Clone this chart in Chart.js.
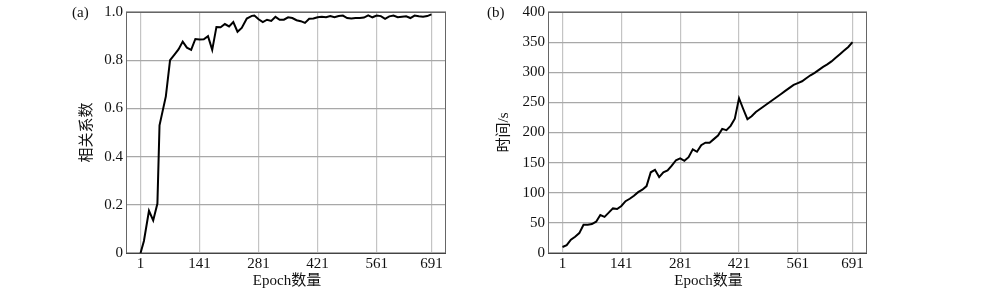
<!DOCTYPE html>
<html>
<head>
<meta charset="utf-8">
<script src="https://cdn.jsdelivr.net/npm/chart.js@4"></script>
<style>
  html, body { margin:0; padding:0; background:#fff; }
  #wrap { position:relative; width:1000px; height:294px; overflow:hidden; }
  .box { position:absolute; top:0; }
</style>
</head>
<body>
<div id="wrap">
  <div class="box" style="left:0px"><canvas id="corrChart" width="460" height="294"></canvas></div>
  <div class="box" style="left:480px"><canvas id="timeChart" width="400" height="294"></canvas></div>
</div>
<script>
// epoch ticks shown on both x axes
const xTicks = [1, 141, 281, 421, 561, 691];

// (a) correlation coefficient vs epoch
const corrEpochs = [1, 9, 21, 31, 41, 46, 61, 71, 81, 91, 101, 111, 121, 131, 141, 151, 161, 171, 181, 191,
  201, 211, 221, 231, 241, 253, 265, 271, 281, 291, 301, 311, 321, 331, 341, 351, 361, 371, 381, 391,
  401, 411, 421, 431, 441, 451, 461, 471, 481, 491, 501, 511, 521, 531, 541, 551, 561, 571, 581, 591,
  601, 611, 621, 631, 641, 651, 661, 671, 681, 691];
const corrValues = [0, 0.05, 0.175, 0.135, 0.205, 0.53, 0.65, 0.80, 0.822, 0.845, 0.877, 0.852, 0.843, 0.888, 0.886, 0.887, 0.90, 0.843, 0.938, 0.937,
  0.95, 0.94, 0.958, 0.918, 0.934, 0.973, 0.984, 0.985, 0.97, 0.958, 0.968, 0.963, 0.98, 0.968, 0.968, 0.978, 0.975, 0.966, 0.962, 0.955,
  0.972, 0.973, 0.978, 0.98, 0.978, 0.983, 0.978, 0.983, 0.985, 0.975, 0.973, 0.975, 0.975, 0.977, 0.986, 0.978, 0.985, 0.983, 0.972, 0.982,
  0.985, 0.978, 0.98, 0.982, 0.975, 0.985, 0.982, 0.98, 0.983, 0.99];
const corrTicks = [0, 0.2, 0.4, 0.6, 0.8, 1.0];

// (b) time (s) vs epoch
const timeEpochs = [1, 11, 21, 31, 41, 51, 61, 71, 81, 91, 101, 111, 121, 131, 141, 151, 161, 171, 181, 191,
  201, 211, 221, 231, 241, 251, 261, 271, 281, 291, 301, 311, 321, 331, 341, 351, 361, 371, 381, 391,
  401, 411, 421, 431, 441, 451, 461, 471, 481, 491, 501, 511, 521, 531, 541, 551, 561, 571, 581, 591,
  601, 611, 621, 631, 641, 651, 661, 671, 681, 691];
const timeValues = [10, 13, 22, 27, 33, 47, 47, 48, 52, 63, 60, 67, 74, 73, 78, 86, 90, 95, 101, 105,
  111, 134, 138, 126, 134, 137, 145, 154, 157, 153, 159, 172, 168, 179, 183, 183, 189, 195, 206, 204,
  211, 223, 257, 239, 222, 227, 234, 239, 244, 249, 254, 259, 264, 269, 274, 279, 282, 285, 290, 295,
  299, 304, 309, 313, 318, 324, 330, 336, 342, 350];
const timeTicks = [0, 50, 100, 150, 200, 250, 300, 350, 400];

const SERIF = '"Liberation Serif", "Times New Roman", serif';
const CJK = '"Liberation Serif", "Noto Sans CJK SC", serif';

// frame + axis titles + panel letter
const decoPlugin = {
  id: 'deco',
  afterDraw(chart, args, opts) {
    const { ctx, chartArea: a } = chart;
    ctx.save();
    ctx.strokeStyle = '#666';
    ctx.lineWidth = 1;
    ctx.strokeRect(a.left + 0.5, a.top + 0.5, a.right - a.left - 1, a.bottom - a.top);
    ctx.strokeStyle = '#444';
    ctx.beginPath();
    ctx.moveTo(a.left, a.bottom + 0.5);
    ctx.lineTo(a.right, a.bottom + 0.5);
    ctx.stroke();
    ctx.fillStyle = '#111';
    ctx.font = '15px ' + CJK;
    ctx.textAlign = 'center';
    ctx.textBaseline = 'middle';
    ctx.fillText(opts.xTitle, (a.left + a.right) / 2 + 1, 281);
    ctx.save();
    ctx.translate(opts.yTitleX, (a.top + a.bottom) / 2);
    ctx.rotate(-Math.PI / 2);
    ctx.fillText(opts.yTitle, 0, 0);
    ctx.restore();
    ctx.font = '15px ' + SERIF;
    ctx.textAlign = 'left';
    ctx.fillText(opts.tag, opts.tagX, 13);
    ctx.restore();
  }
};

function makeChart(id, epochs, values, yTicks, yMax, plotLeft, plotRight, yFmt, deco) {
  const canvas = document.getElementById(id);
  const pts = epochs.map((e, i) => ({ x: e, y: values[i] }));
  return new Chart(canvas, {
    type: 'line',
    data: {
      datasets: [{
        data: pts,
        borderColor: '#000',
        borderWidth: 2,
        pointRadius: 0,
        tension: 0,
        fill: false
      }]
    },
    options: {
      responsive: false,
      animation: false,
      layout: { padding: { top: 8, right: canvas.width - plotRight, left: 0, bottom: 0 } },
      plugins: { legend: { display: false }, tooltip: { enabled: false }, deco: deco },
      scales: {
        x: {
          type: 'linear',
          min: -33.5,
          max: 725.5,
          afterBuildTicks: s => { s.ticks = xTicks.map(v => ({ value: v })); },
          afterFit: s => { s.height = 294 - 253; },
          grid: { color: '#c4c4c4', lineWidth: 1.2, drawTicks: false },
          border: { display: false },
          ticks: { color: '#111', font: { family: SERIF, size: 15 }, padding: 2, maxRotation: 0, autoSkip: false }
        },
        y: {
          min: 0,
          max: yMax,
          afterBuildTicks: s => { s.ticks = yTicks.map(v => ({ value: v })); },
          afterFit: s => { s.width = plotLeft; },
          grid: { color: '#a8a8a8', lineWidth: 1.2, drawTicks: false },
          border: { display: false },
          ticks: { color: '#111', font: { family: SERIF, size: 15 }, padding: 3, callback: yFmt }
        }
      }
    },
    plugins: [decoPlugin]
  });
}

makeChart('corrChart', corrEpochs, corrValues, corrTicks, 1.0, 126, 446,
  v => v === 0 ? '0' : v.toFixed(1),
  { xTitle: 'Epoch数量', yTitle: '相关系数', yTitleX: 87, tag: '(a)', tagX: 72 });

makeChart('timeChart', timeEpochs, timeValues, timeTicks, 400, 68, 387,
  v => String(v),
  { xTitle: 'Epoch数量', yTitle: '时间/s', yTitleX: 24, tag: '(b)', tagX: 7 });
</script>
</body>
</html>
